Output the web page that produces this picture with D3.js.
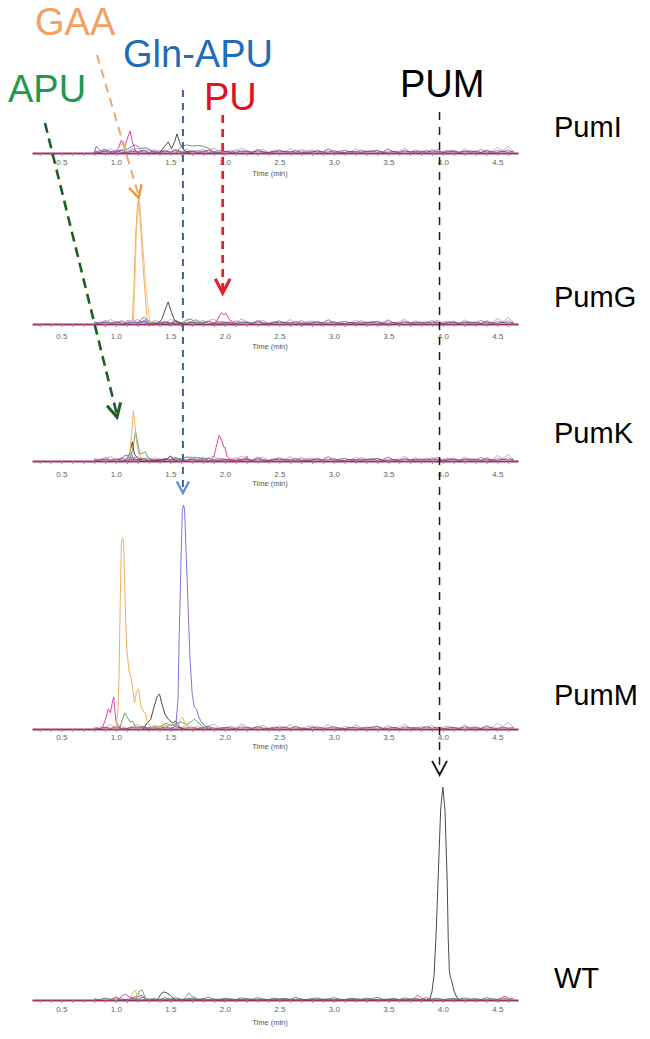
<!DOCTYPE html>
<html>
<head>
<meta charset="utf-8">
<script src="https://cdn.jsdelivr.net/npm/d3@7"></script>
<style>
  body { margin: 0; background: #fff; }
  svg { display: block; font-family: "Liberation Sans", Arial, sans-serif; }
</style>
</head>
<body>
<div id="chart"></div>
<script>
// ---- data ----
const PANELS = ['PumI', 'PumG', 'PumK', 'PumM', 'WT'];
const TIME_DOMAIN = [0.23, 4.69];
const TICK_TIMES = d3.range(3, 47).map((d) => d / 10);

const COMPOUNDS = ['GAA', 'Gln-APU', 'APU', 'PU', 'PUM'];
const COMPOUND_TIMES = [1.21, 1.615, 1.01, 1.98, 3.97];

// baseline noise, relative abundance (%), sampled from 0.80 min every 0.05 min
const NOISE_START = 0.8;
const NOISE_STEP = 0.05;
const noisePink = [0, 1, 0.5, 2, 0.5, 1.5, 0.3, 1, 2, 0.5, 0, 1.5, 1, 0.3, 2, 1, 0.5, 1.8, 0.4, 1, 0.2, 1.5, 2, 0.6, 0.3, 1.2,
  0.5, 2.2, 1, 0.3, 0.8, 1.6, 0.4, 0.2, 1.3, 0.6, 1.9, 0.5, 0.2, 1, 1.4, 0.3, 0.7, 2, 0.5, 0.2, 1.1, 0.4, 1.7, 0.6, 0.3, 1.2,
  0.8, 0.2, 1.5, 0.5, 0.9, 2.1, 0.4, 0.3, 1, 0.6, 1.6, 0.2, 0.8, 1.3, 0.4, 0.2, 1.8, 0.6, 1, 0.3, 1.5, 0.5, 2.4, 1, 2.8, 0.5];
const noisePurple = [1, 0.4, 1.5, 0.6, 0.2, 1.2, 0.5, 1.8, 0.3, 0.9, 1.4, 0.2, 0.6, 1.1, 0.3, 1.6, 0.5, 0.2, 1, 0.7, 1.5, 0.3,
  0.4, 1.2, 0.8, 0.2, 1.4, 0.5, 1, 0.3, 1.7, 0.6, 0.2, 0.9, 1.3, 0.4, 0.7, 0.2, 1.5, 0.6, 0.3, 1.1, 0.5, 1.6, 0.2, 0.8, 1.2,
  0.4, 0.3, 1.4, 0.6, 1, 0.2, 0.7, 1.8, 0.4, 0.5, 1.1, 0.3, 1.3, 0.6, 0.2, 0.9, 1.5, 0.4, 0.7, 1.2, 0.3, 0.6, 1, 0.4, 1.6,
  0.5, 0.3, 1.1, 0.6, 1.4, 0.3];
const noiseBlack = [0.5, 0.2, 0.8, 0.3, 1, 0.4, 0.2, 0.7, 0.5, 1.2, 0.3, 0.6, 0.2, 0.9, 0.4, 1, 0.3, 0.5, 0.8, 0.2, 0.6, 1.1,
  0.4, 0.3, 0.7, 0.5, 0.2, 0.9, 0.6, 0.3, 1, 0.4, 0.2, 0.8, 0.5, 0.7, 0.3, 1.1, 0.4, 0.2, 0.6, 0.9, 0.3, 0.5, 1, 0.4, 0.2,
  0.7, 0.6, 0.3, 0.8, 0.5, 1.2, 0.3, 0.4, 0.7, 0.2, 0.9, 0.5, 0.6, 0.3, 1, 0.4, 0.8, 0.2, 0.5, 0.7, 0.3, 0.9, 0.4, 0.6, 0.2,
  1, 0.5, 0.3, 0.8, 0.4, 0.6];

// peaks per mutant, [time (min), relative abundance (%)]
const pumIPeaks = {
  blue: [[0.8, 0], [0.82, 3], [0.85, 1], [0.9, 1.5], [0.95, 0.5], [1.1, 1.5], [1.15, 3], [1.18, 3.5], [1.22, 2], [1.28, 2.2], [1.33, 1], [1.38, 0.5], [1.42, 0]],
  green: [[1.55, 0], [1.6, 3], [1.65, 3.5], [1.7, 3], [1.75, 3.3], [1.8, 3], [1.85, 2], [1.9, 0.5], [1.95, 0]],
  black: [[1.4, 0], [1.45, 3], [1.48, 4.8], [1.51, 2], [1.54, 5], [1.56, 8.3], [1.59, 4], [1.63, 1], [1.68, 0]],
  orange: [[1.0, 0], [1.04, 3.5], [1.07, 4], [1.1, 1], [1.13, 0]],
  magenta: [[0.98, 0], [1.02, 2], [1.05, 5.6], [1.08, 2.5], [1.11, 7], [1.13, 9.6], [1.15, 5], [1.18, 1], [1.22, 0]],
};
const pumGPeaks = {
  blue: [[1.08, 0], [1.11, 1.7], [1.13, 0.5], [1.24, 1], [1.27, 1.8], [1.3, 0.5], [1.33, 0]],
  green: [[1.2, 0], [1.24, 2.5], [1.26, 3], [1.29, 1.5], [1.33, 0.5], [1.45, 0], [1.62, 0.5], [1.66, 2], [1.68, 2.2], [1.71, 1.5], [1.74, 1.8], [1.78, 0.5], [1.82, 0]],
  black: [[1.38, 0], [1.42, 2], [1.45, 6], [1.48, 9.6], [1.51, 5], [1.54, 1.5], [1.58, 0.5], [1.62, 0]],
  red: [[1.88, 0], [1.92, 1], [1.95, 3.5], [1.97, 4.8], [1.99, 4], [2.01, 4.6], [2.04, 2], [2.08, 0.5], [2.12, 0]],
  orange: [[1.12, 0.3], [1.15, 0.5], [1.165, 15], [1.18, 38], [1.2, 53], [1.21, 54], [1.23, 40], [1.26, 18], [1.285, 3], [1.3, 0.5], [1.33, 0]],
  orange2: [[1.16, 0.3], [1.175, 20], [1.19, 42], [1.21, 53.5], [1.22, 52], [1.25, 32], [1.28, 14], [1.31, 1], [1.34, 0]],
};
const pumKPeaks = {
  blue: [[1.08, 0], [1.12, 2.5], [1.14, 3.5], [1.16, 1], [1.2, 0.5], [1.24, 0]],
  green: [[1.12, 0], [1.15, 4], [1.18, 13], [1.2, 8], [1.22, 3], [1.25, 3.5], [1.27, 4], [1.3, 1], [1.35, 0.5], [1.6, 1], [1.65, 1.7], [1.75, 1.5], [1.8, 1], [1.85, 0]],
  black: [[1.1, 0], [1.13, 4], [1.15, 8.3], [1.17, 3], [1.2, 1], [1.3, 0], [1.46, 0.5], [1.5, 2.2], [1.53, 0.5], [1.57, 0]],
  magenta: [[1.03, 0], [1.07, 2], [1.1, 2.6], [1.13, 1.5], [1.17, 0]],
  red: [[1.86, 0], [1.9, 2], [1.92, 6], [1.94, 10], [1.95, 11.3], [1.97, 9], [1.99, 6], [2.0, 6.1], [2.02, 2], [2.05, 0.5], [2.1, 0], [2.18, 0.5], [2.2, 2.2], [2.22, 0.5], [2.25, 0]],
  orange: [[1.1, 0], [1.13, 4], [1.15, 15], [1.16, 21.7], [1.17, 18], [1.19, 8], [1.21, 3], [1.24, 1], [1.28, 0]],
};
const pumMPeaks = {
  green: [[1.03, 0], [1.06, 4], [1.08, 7], [1.1, 5.5], [1.13, 3], [1.15, 3.5], [1.18, 1], [1.25, 0.5], [1.4, 1], [1.46, 2.5], [1.5, 1.5], [1.6, 3], [1.65, 2], [1.7, 3.5], [1.72, 4.3], [1.75, 3], [1.8, 1], [1.85, 0]],
  black: [[1.25, 0], [1.28, 2.2], [1.32, 4.3], [1.35, 9.6], [1.38, 14.3], [1.4, 15.2], [1.42, 11.3], [1.45, 6.5], [1.48, 4.3], [1.52, 2.6], [1.55, 3.5], [1.58, 1], [1.62, 0]],
  magenta: [[0.85, 0], [0.88, 0.9], [0.91, 5.2], [0.93, 8.7], [0.95, 7], [0.97, 12.2], [0.98, 13.9], [0.99, 8.7], [1.0, 3.5], [1.02, 1.7], [1.05, 0]],
  orange: [[1.0, 0], [1.02, 8.7], [1.03, 26], [1.04, 56.5], [1.05, 80.4], [1.06, 83], [1.07, 81.7], [1.08, 65.2], [1.09, 47.8], [1.1, 34.8], [1.12, 25.2],
    [1.13, 24.3], [1.15, 19.6], [1.17, 11.3], [1.19, 16.5], [1.21, 17.4], [1.23, 9.6], [1.25, 7.8], [1.27, 7], [1.29, 2.6], [1.32, 0.9], [1.36, 0],
    [1.45, 1.5], [1.5, 2], [1.55, 1], [1.59, 4], [1.61, 5.2], [1.63, 3], [1.66, 1], [1.7, 0.5], [1.75, 0]],
  blue: [[1.5, 0], [1.55, 1.3], [1.57, 13], [1.58, 39], [1.6, 78], [1.61, 95], [1.62, 97.4], [1.63, 95.6], [1.64, 82.6], [1.66, 56.5], [1.68, 30.4],
    [1.7, 15.2], [1.72, 9.6], [1.74, 8.7], [1.76, 5.2], [1.79, 2.6], [1.83, 0.9], [1.88, 0]],
};
const wtPeaks = {
  purple: [[1.02, 0], [1.06, 2], [1.09, 2.5], [1.13, 1], [1.2, 1.5], [1.24, 2], [1.27, 0]],
  green: [[1.18, 0], [1.22, 4], [1.24, 4.3], [1.27, 1], [1.3, 0], [1.62, 0], [1.67, 3], [1.7, 1.5], [1.75, 0.5], [1.8, 0]],
  orange: [[1.12, 0], [1.16, 3.5], [1.18, 4.3], [1.2, 1], [1.22, 0]],
  red: [[0.97, 0], [1.0, 1.5], [1.03, 0], [3.72, 0], [3.77, 2.2], [3.8, 1], [3.84, 0], [4.52, 0], [4.56, 1.7], [4.6, 1], [4.62, 0]],
  black: [[1.38, 0], [1.42, 3], [1.44, 3.5], [1.47, 3], [1.5, 2], [1.53, 0.5], [1.56, 0], [3.85, 0], [3.88, 0.3], [3.9, 3.5], [3.92, 10.9],
    [3.94, 30.4], [3.96, 56.5], [3.98, 82.6], [4.0, 92.6], [4.02, 82.6], [4.04, 52.2], [4.05, 26], [4.06, 13], [4.07, 9.6], [4.08, 8.7],
    [4.1, 4.3], [4.13, 1], [4.16, 0]],
};
const PANEL_PEAKS = [pumIPeaks, pumGPeaks, pumKPeaks, pumMPeaks, wtPeaks];
const PANEL_NOISE = [['pink', 'purple', 'black'], ['pink', 'purple', 'black'], ['pink', 'purple', 'black'], ['pink', 'black'], ['black']];

// ---- layout / style ----
const W = 650;
const H = 1039;
const PANEL_BASE = [153, 324, 461, 729, 1000];
const PANEL_LABEL_Y = [137, 307, 443, 705, 988];
const TICK_PAD = [3, 6, 7, 2, 3];
const TIME_LABEL_DY = [23, 25, 25, 20, 25];
const PX_PER_100 = 230;

const TRACE_COLORS = {
  orange: '#f3ad62', orange2: '#f7c488', green: '#67a562', blue: '#7676d8', black: '#4a4a4a',
  magenta: '#e043b0', red: '#e5506a', purple: '#9060c6',
};
const NOISE_COLORS = { pink: '#e276a4', purple: '#8068c2', black: '#444' };
const NOISE_SERIES = { pink: noisePink, purple: noisePurple, black: noiseBlack };
const DRAW_ORDER = ['purple', 'green', 'black', 'magenta', 'red', 'orange2', 'orange', 'blue'];

// annotation labels and arrows
const LABEL_COLORS = ['#f2a160', '#1f6db5', '#1e9a4a', '#e0141e', '#000'];
const LABEL_POS = [[35, 35], [123, 67], [8, 102], [204, 110], [400, 97]];
const ARROW_COLORS = ['#f2a66a', '#3f5f98', '#1d5e22', '#e2232b', '#1a1a1a'];
const HEAD_COLORS = ['#f0983e', '#5b8fd6', '#1d5e22', '#e2232b', '#1a1a1a'];
const ARROW_FROM = [[97, 55], [null, 90], [45, 123], [null, 115], [null, 112]];
const ARROW_TIP_Y = [198, 493, 417, 293, 775];
const ARROW_WIDTH = [2, 2, 2.6, 2.8, 1.5];
const ARROW_DASH = ['9,6', '7,6', '10,6', '8,6', '8,7'];
const HEAD_LEN = [14, 13, 15, 16, 16];

const svg = d3.select('#chart').append('svg')
  .attr('width', W)
  .attr('height', H);

const x = d3.scaleLinear().domain(TIME_DOMAIN).range([32, 518]);

PANELS.forEach((name, i) => {
  const base = PANEL_BASE[i];
  const y = d3.scaleLinear().domain([0, 100]).range([base, base - PX_PER_100]);
  const g = svg.append('g').attr('class', `panel-${name}`);

  const line = d3.line()
    .x((d) => x(d[0]))
    .y((d) => y(d[1]));

  // noise traces
  PANEL_NOISE[i].forEach((key) => {
    const pts = NOISE_SERIES[key]
      .map((v, j) => [NOISE_START + j * NOISE_STEP, v])
      .filter((d) => d[0] <= TIME_DOMAIN[1]);
    g.append('path')
      .datum(pts)
      .attr('d', line)
      .attr('fill', 'none')
      .attr('stroke', NOISE_COLORS[key])
      .attr('stroke-width', 0.9)
      .attr('opacity', 0.8);
  });

  // peaks
  const peaks = PANEL_PEAKS[i];
  DRAW_ORDER.filter((k) => peaks[k]).forEach((key) => {
    g.append('path')
      .datum(peaks[key])
      .attr('d', line)
      .attr('fill', 'none')
      .attr('stroke', TRACE_COLORS[key])
      .attr('stroke-width', 1)
      .attr('stroke-linejoin', 'round');
  });

  // axis
  const axis = d3.axisBottom(x)
    .tickValues(TICK_TIMES)
    .tickSize(3)
    .tickSizeOuter(0)
    .tickPadding(TICK_PAD[i])
    .tickFormat((d) => (Math.round(d * 10) % 5 === 0 ? d3.format('.1f')(d) : ''));
  const ax = g.append('g')
    .attr('transform', `translate(0,${base})`)
    .call(axis);
  ax.select('.domain').attr('stroke', '#a3306a').attr('stroke-width', 2);
  ax.selectAll('.tick line').attr('stroke', '#888');
  ax.selectAll('.tick text')
    .attr('fill', '#666')
    .style('font-size', '8px')
    .style('font-family', '"Liberation Sans", Arial, sans-serif');

  g.append('text')
    .attr('x', 270)
    .attr('y', base + TIME_LABEL_DY[i])
    .attr('text-anchor', 'middle')
    .attr('fill', '#555')
    .style('font-size', '7.5px')
    .text('Time (min)');

  g.append('text')
    .attr('x', 554)
    .attr('y', PANEL_LABEL_Y[i])
    .attr('fill', '#000')
    .style('font-size', '29px')
    .text(name);
});

// arrows
const arrows = svg.append('g').attr('class', 'arrows');
COMPOUNDS.forEach((c, i) => {
  const tipX = x(COMPOUND_TIMES[i]);
  const tipY = ARROW_TIP_Y[i];
  const fromX = ARROW_FROM[i][0] === null ? tipX : ARROW_FROM[i][0];
  const fromY = ARROW_FROM[i][1];
  arrows.append('line')
    .attr('x1', fromX).attr('y1', fromY)
    .attr('x2', tipX).attr('y2', tipY - 2)
    .attr('stroke', ARROW_COLORS[i])
    .attr('stroke-width', ARROW_WIDTH[i])
    .attr('stroke-dasharray', ARROW_DASH[i]);

  const ang = Math.atan2(tipY - fromY, tipX - fromX);
  const spread = Math.PI / 6.5;
  const L = HEAD_LEN[i];
  const p1 = [tipX - L * Math.cos(ang - spread), tipY - L * Math.sin(ang - spread)];
  const p2 = [tipX - L * Math.cos(ang + spread), tipY - L * Math.sin(ang + spread)];
  arrows.append('path')
    .attr('d', `M${p1[0]},${p1[1]}L${tipX},${tipY}L${p2[0]},${p2[1]}`)
    .attr('fill', 'none')
    .attr('stroke', HEAD_COLORS[i])
    .attr('stroke-width', ARROW_WIDTH[i] + 0.4)
    .attr('stroke-linejoin', 'miter');
});

// compound labels
svg.append('g').selectAll('text')
  .data(COMPOUNDS)
  .join('text')
  .attr('x', (d, i) => LABEL_POS[i][0])
  .attr('y', (d, i) => LABEL_POS[i][1])
  .attr('fill', (d, i) => LABEL_COLORS[i])
  .style('font-size', '38px')
  .text((d) => d);
</script>
</body>
</html>
